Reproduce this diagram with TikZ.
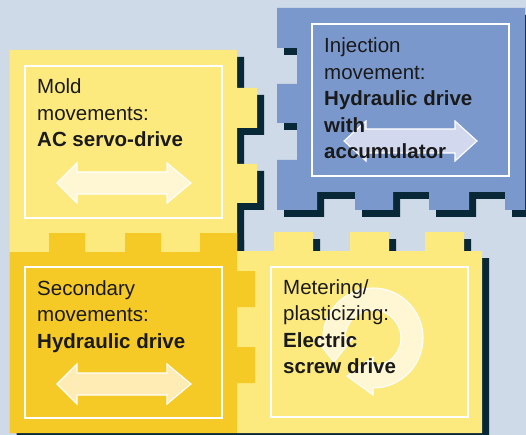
\documentclass[tikz,border=0pt]{standalone}
\usepackage{fontspec}
\setmainfont{Liberation Sans}
\definecolor{bgc}{RGB}{206,218,232}
\definecolor{lyel}{RGB}{252,234,126}
\definecolor{dyel}{RGB}{245,202,38}
\definecolor{bluec}{RGB}{122,152,204}
\definecolor{shadowc}{RGB}{8,40,56}
\definecolor{textc}{RGB}{26,26,26}
\definecolor{arrA}{RGB}{255,246,212}
\definecolor{arrB}{RGB}{255,235,180}
\definecolor{arrC}{RGB}{210,216,238}
\newcommand\moldpath{(9.5,50) -- (237,50) -- (237,88) -- (257,88) -- (257,128) -- (237,128) -- (237,164) -- (257,164) -- (257,203) -- (237,203) -- (237,252) -- (9.5,252) -- cycle}
\newcommand\meterpath{(237,251) -- (274,251) -- (274,232) -- (313,232) -- (313,251) -- (350,251) -- (350,232) -- (389,232) -- (389,251) -- (425,251) -- (425,232) -- (464,232) -- (464,251) -- (482,251) -- (482,433) -- (237,433) -- cycle}
\newcommand\secpath{(9.5,252) -- (49,252) -- (49,233) -- (85,233) -- (85,252) -- (125,252) -- (125,233) -- (161,233) -- (161,252) -- (200,252) -- (200,233) -- (237,233) -- (237,271) -- (255,271) -- (255,307) -- (237,307) -- (237,347) -- (255,347) -- (255,383) -- (237,383) -- (237,433) -- (9.5,433) -- cycle}
\newcommand\bluepath{(277,8) -- (525,8) -- (525,210) -- (505,210) -- (505,192) -- (469,192) -- (469,210) -- (429,210) -- (429,192) -- (393,192) -- (393,210) -- (355,210) -- (355,192) -- (317,192) -- (317,210) -- (277,210) -- (277,160) -- (297,160) -- (297,123) -- (277,123) -- (277,84) -- (297,84) -- (297,48) -- (277,48) -- cycle}
\begin{document}
\begin{tikzpicture}[x=1pt,y=-1pt,
  shadowfill/.style={fill=shadowc, shift={(7,7)}},
  frame/.style={draw=white, line width=1.2pt},
  arrowshape/.style={draw=white, line width=1.1pt, line join=miter},
  lbl/.style={anchor=base west, inner sep=0pt, text=textc,
    font=\fontsize{20.5}{26.5}\selectfont}]
\useasboundingbox (0,0) rectangle (526,435);
\fill[bgc] (0,0) rectangle (526,435);
% shadows
\fill[shadowfill] \moldpath;
\fill[shadowfill] \meterpath;
\fill[shadowfill] \secpath;
\fill[shadowfill] \bluepath;
% pieces
\fill[lyel] \moldpath;
\fill[lyel] \meterpath;
\fill[dyel] \secpath;
\fill[bluec] \bluepath;
% frames
\draw[frame] (25,66) rectangle (222,218);
\draw[frame] (25,267) rectangle (222,418);
\draw[frame] (271,267) rectangle (468,417);
\draw[frame] (312,24) rectangle (509,176);
% arrows
\filldraw[arrowshape, fill=arrA] (57,183) -- (77,163) -- (77,172) -- (167,172) -- (167,163) -- (191,183) -- (167,203) -- (167,194) -- (77,194) -- (77,203) -- cycle;
\filldraw[arrowshape, fill=arrB] (57,384) -- (77,364) -- (77,373) -- (167,373) -- (167,364) -- (191,384) -- (167,404) -- (167,395) -- (77,395) -- (77,404) -- cycle;
\filldraw[arrowshape, fill=arrC] (344,141) -- (366,121) -- (366,129) -- (455,129) -- (455,121) -- (477,141) -- (455,161) -- (455,153) -- (366,153) -- (366,161) -- cycle;
\begin{scope}[shift={(373,338)}]
\filldraw[arrowshape, fill=arrA] (90:50) arc[start angle=90, end angle=-180, radius=50] -- (-180:58) -- (-39,24) -- (-180:20) -- (-180:28) arc[start angle=-180, end angle=90, radius=28] -- (90:19) -- (-26,38) -- (90:57) -- cycle;
\end{scope}
% texts
\node[lbl] (moldtxt) at (37,94) {\begin{tabular}[t]{@{}l@{}}Mold\\movements:\\\textbf{AC servo-drive}\end{tabular}};
\node[lbl] (sectxt) at (37,295) {\begin{tabular}[t]{@{}l@{}}Secondary\\movements:\\\textbf{Hydraulic drive}\end{tabular}};
\node[lbl] (metertxt) at (283,294) {\begin{tabular}[t]{@{}l@{}}Metering/\\plasticizing:\\\textbf{Electric}\\\textbf{screw drive}\end{tabular}};
\node[lbl] (injtxt) at (324,53) {\begin{tabular}[t]{@{}l@{}}Injection\\movement:\\\textbf{Hydraulic drive}\\\textbf{with}\\\textbf{accumulator}\end{tabular}};
\end{tikzpicture}
\end{document}
